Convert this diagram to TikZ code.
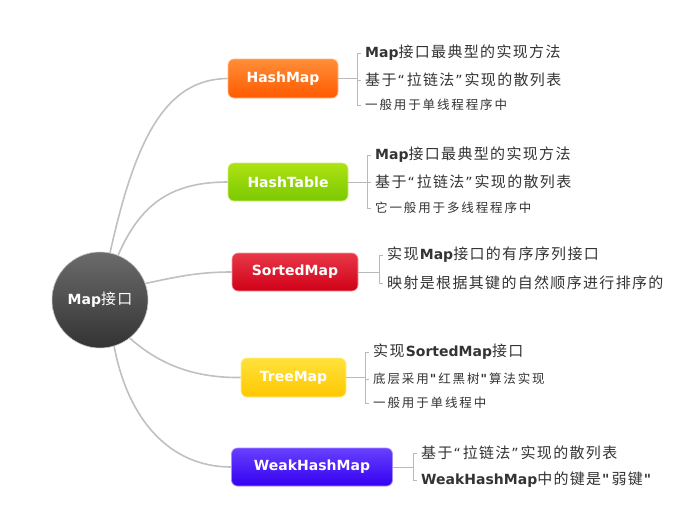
\documentclass[tikz,border=0pt]{standalone}
\usepackage{fontspec}
\setmainfont{DejaVu Sans}
\newfontfamily\quotefont{DejaVu Sans}
\newfontfamily\cjkbig[Scale=1.07,LetterSpace=9]{Noto Sans CJK SC}
\newfontfamily\cjksmall[LetterSpace=15]{Noto Sans CJK SC}
\usetikzlibrary{calc}
\definecolor{textgray}{RGB}{51,51,51}
\definecolor{branchgray}{RGB}{192,192,192}
\definecolor{twiggray}{RGB}{185,185,185}
\definecolor{orangetop}{RGB}{255,142,56}
\definecolor{orangebot}{RGB}{255,90,0}
\definecolor{greentop}{RGB}{172,226,20}
\definecolor{greenbot}{RGB}{124,200,0}
\definecolor{redtop}{RGB}{232,56,72}
\definecolor{redbot}{RGB}{208,0,24}
\definecolor{yellowtop}{RGB}{255,226,60}
\definecolor{yellowbot}{RGB}{255,200,0}
\definecolor{bluetop}{RGB}{104,64,255}
\definecolor{bluebot}{RGB}{52,0,240}
\tikzstyle{root} = [circle, minimum size=96pt, inner sep=0pt, draw=black!25, line width=0.6pt, top color=black!58, middle color=black!80, bottom color=black!80, text=white, font=\fontsize{14}{16}\selectfont]
\tikzstyle{mapbox} = [rectangle, rounded corners=6pt, minimum height=38pt, inner sep=0pt, text=white, font=\fontsize{14}{16}\selectfont\bfseries, line width=0.7pt]
\tikzstyle{leaf} = [anchor=west, inner xsep=8pt, inner ysep=0pt, text=textgray, font=\fontsize{14}{17}\selectfont]
\tikzstyle{leafsmall} = [leaf, font=\fontsize{12.5}{15}\selectfont]
\tikzstyle{branch} = [draw=branchgray, line width=1.6pt]
\tikzstyle{twig} = [draw=twiggray, line width=0.8pt]

\begin{document}
\begin{tikzpicture}[x=1pt, y=-1pt]
    \useasboundingbox (0,0) rectangle (698,512);
    % centre
    \node (root)[root] at (100,300) {\textbf{Map}{\cjkbig 接口}};
    % the five maps
    \node (hashmap)[mapbox, minimum width=110pt, minimum height=39pt, draw=orangetop!60!white, top color=orangetop, bottom color=orangebot] at (283,78.5) {HashMap};
    \node (hashtable)[mapbox, minimum width=120pt, draw=greentop!60!white, top color=greentop, bottom color=greenbot] at (288,182) {HashTable};
    \node (sortedmap)[mapbox, minimum width=126pt, draw=redtop!50!white, top color=redtop, bottom color=redbot] at (295,272) {SortedMap};
    \node (treemap)[mapbox, minimum width=105pt, minimum height=39pt, draw=yellowtop!60!white, top color=yellowtop, bottom color=yellowbot] at (293.5,377.5) {TreeMap};
    \node (weakhashmap)[mapbox, minimum width=161pt, draw=bluetop!60!white, top color=bluetop, bottom color=bluebot] at (312,467) {WeakHashMap};
    % notes
    \node (hm1)[leaf] at (357,53) {\textbf{Map}{\cjkbig 接口最典型的实现方法}};
    \node (hm2)[leaf] at (357,80) {{\cjkbig 基于}\kern1pt“\kern2pt{\cjkbig 拉链法}\kern1pt”\kern2pt{\cjkbig 实现的散列表}};
    \node (hm3)[leafsmall] at (357,105) {\cjksmall 一般用于单线程程序中};
    \node (ht1)[leaf] at (367,155) {\textbf{Map}{\cjkbig 接口最典型的实现方法}};
    \node (ht2)[leaf] at (367,182) {{\cjkbig 基于}\kern1pt“\kern2pt{\cjkbig 拉链法}\kern1pt”\kern2pt{\cjkbig 实现的散列表}};
    \node (ht3)[leafsmall] at (367,208) {\cjksmall 它一般用于多线程程序中};
    \node (sm1)[leaf] at (379,255) {{\cjkbig 实现}\textbf{Map}{\cjkbig 接口的有序序列接口}};
    \node (sm2)[leaf] at (379,283) {\cjkbig 映射是根据其键的自然顺序进行排序的};
    \node (tm1)[leaf] at (365,352) {{\cjkbig 实现}\textbf{SortedMap}{\cjkbig 接口}};
    \node (tm2)[leafsmall] at (365,379) {{\cjksmall 底层采用}\kern1pt{\quotefont\bfseries "}\kern2pt{\cjksmall 红黑树}\kern1pt{\quotefont\bfseries "}\kern2pt{\cjksmall 算法实现}};
    \node (tm3)[leafsmall] at (365,403) {\cjksmall 一般用于单线程中};
    \node (wh1)[leaf] at (413,453) {{\cjkbig 基于}\kern1pt“\kern2pt{\cjkbig 拉链法}\kern1pt”\kern2pt{\cjkbig 实现的散列表}};
    \node (wh2)[leaf] at (413,480) {\textbf{WeakHashMap}{\cjkbig 中的键是}\kern1pt{\quotefont\bfseries "}\kern2pt{\cjkbig 弱键}\kern1pt{\quotefont\bfseries "}};
    % branches
    \draw[branch] (root.78) .. controls (135,140) and (165,79) .. (hashmap.west);
    \draw[branch] (root.68) .. controls (140,205) and (170,182) .. (hashtable.west);
    \draw[branch] (root.20) .. controls (180,276) and (200,272) .. (sortedmap.west);
    \draw[branch] (root.-52) .. controls (160,365) and (195,378) .. (treemap.west);
    \draw[branch] (root.-73) .. controls (128,420) and (170,467) .. (weakhashmap.west);
    % brackets
    \draw[twig] (hashmap.east) -- (hashmap.east -| hm2.west);
    \draw[twig] ([xshift=4pt]hm1.west) -- (hm1.west) -- (hm3.west) -- ([xshift=4pt]hm3.west);
    \draw[twig] (hm2.west) -- ([xshift=4pt]hm2.west);
    \draw[twig] (hashtable.east) -- (hashtable.east -| ht2.west);
    \draw[twig] ([xshift=4pt]ht1.west) -- (ht1.west) -- (ht3.west) -- ([xshift=4pt]ht3.west);
    \draw[twig] (ht2.west) -- ([xshift=4pt]ht2.west);
    \draw[twig] (sortedmap.east) -- (sortedmap.east -| sm1.west);
    \draw[twig] ([xshift=4pt]sm1.west) -- (sm1.west) -- (sm2.west) -- ([xshift=4pt]sm2.west);
    \draw[twig] (treemap.east) -- (treemap.east -| tm2.west);
    \draw[twig] ([xshift=4pt]tm1.west) -- (tm1.west) -- (tm3.west) -- ([xshift=4pt]tm3.west);
    \draw[twig] (tm2.west) -- ([xshift=4pt]tm2.west);
    \draw[twig] (weakhashmap.east) -- (weakhashmap.east -| wh1.west);
    \draw[twig] ([xshift=4pt]wh1.west) -- (wh1.west) -- (wh2.west) -- ([xshift=4pt]wh2.west);
  \end{tikzpicture}
\end{document}
